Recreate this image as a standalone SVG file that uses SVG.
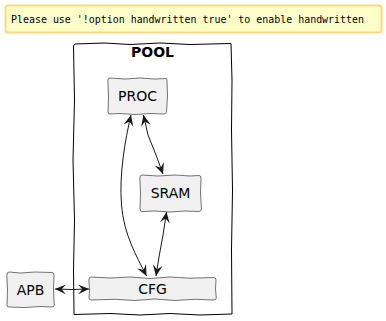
<svg xmlns="http://www.w3.org/2000/svg" width="386" height="321" viewBox="0 0 386 321">
<defs>
<style>
.node{fill:#F1F1F1;stroke:#181818;stroke-width:0.6}
.lbl{font-family:"DejaVu Sans","Liberation Sans",sans-serif;font-size:14px;fill:#000;text-anchor:middle}
.edge{fill:none;stroke:#181818;stroke-width:1}
</style>
<marker id="ah" viewBox="0 0 10 10" refX="10" refY="5" markerWidth="11" markerHeight="11" markerUnits="userSpaceOnUse" orient="auto-start-reverse">
<path d="M0,0.5 L10,5 L0,9.5 L4,5 Z" fill="#181818"/>
</marker>
</defs>
<g id="note">
<rect x="5.5" y="5.5" width="376" height="27" rx="2.5" fill="#FFFFCC" stroke="#FFD97F" stroke-width="2"/>
<text x="11" y="22.5" font-family="DejaVu Sans Mono,Liberation Mono,monospace" font-size="10" textLength="353" lengthAdjust="spacingAndGlyphs" fill="#000">Please use '!option handwritten true' to enable handwritten</text>
</g>
<g id="POOL">
<path d="M75,44 L105,43 L130,44.5 L160,43 L190,44.5 L231,43.5 L232,80 L231.5,130 L232.5,190 L231.5,250 L232,314 L200,315 L170,313.5 L140,315 L110,313.5 L74,314.5 L73.5,270 L74.5,220 L73,160 L74.5,100 L73.5,46 Z" fill="none" stroke="#000" stroke-width="1"/>
<text x="152.5" y="57" font-family="DejaVu Sans,Liberation Sans,sans-serif" font-size="14" font-weight="bold" text-anchor="middle">POOL</text>
</g>
<g id="PROC">
<path class="node" d="M110,78 L125,79 L140,78 L155,79 L166,78.5 Q167.5,79 167,81 L167.5,96 L166.5,112 Q166,114 164,114 L150,113.5 L135,114.5 L120,113.5 L110,114 Q108,114 108,112 L108.5,96 L107.8,80 Q108,78 110,78 Z"/>
<text class="lbl" x="137.5" y="101">PROC</text>
</g>
<g id="SRAM">
<path class="node" d="M142,175 L158,176 L175,175 L190,176 L199,175.5 Q201,175.5 201,178 L200.5,193 L201.5,209 Q201,211.5 199,211.5 L185,211 L170,212 L155,211 L142,211.5 Q140,211.5 140,209 L140.5,193 L139.8,178 Q140,175 142,175 Z"/>
<text class="lbl" x="170.5" y="198">SRAM</text>
</g>
<g id="CFG">
<path class="node" d="M91,277 L110,278 L130,277 L150,278.5 L170,277 L190,278.2 L214,277.5 Q216,277.5 216,280 L215.5,289 L216.3,298 Q216,300 214,300 L195,299.3 L175,300.5 L155,299 L135,300.5 L115,299.3 L91,300 Q89,300 89,298 L89.6,289 L88.8,280 Q89,277 91,277 Z"/>
<text class="lbl" x="152.5" y="294">CFG</text>
</g>
<g id="APB">
<path class="node" d="M9,272 L20,273 L35,272 L52,272.5 Q54,272.5 54,275 L53.5,290 L54.3,305 Q54,307 52,307 L40,306.5 L25,307.5 L9,307 Q7,307 7,305 L7.5,290 L6.8,275 Q7,272 9,272 Z"/>
<text class="lbl" x="30.5" y="295">APB</text>
</g>
<g id="connectors">
<path class="edge" marker-start="url(#ah)" marker-end="url(#ah)" d="M131,115 C125,140 119,175 121.5,205 C124,235 136,255 146.5,276"/>
<path class="edge" marker-start="url(#ah)" marker-end="url(#ah)" d="M143.5,115 L148,135 L156,155 L163,174"/>
<path class="edge" marker-start="url(#ah)" marker-end="url(#ah)" d="M166.5,212 L163,235 L159,257 L156,276"/>
<path class="edge" marker-start="url(#ah)" marker-end="url(#ah)" d="M55,289 L72,289.5 L89,289"/>
</g>
</svg>
